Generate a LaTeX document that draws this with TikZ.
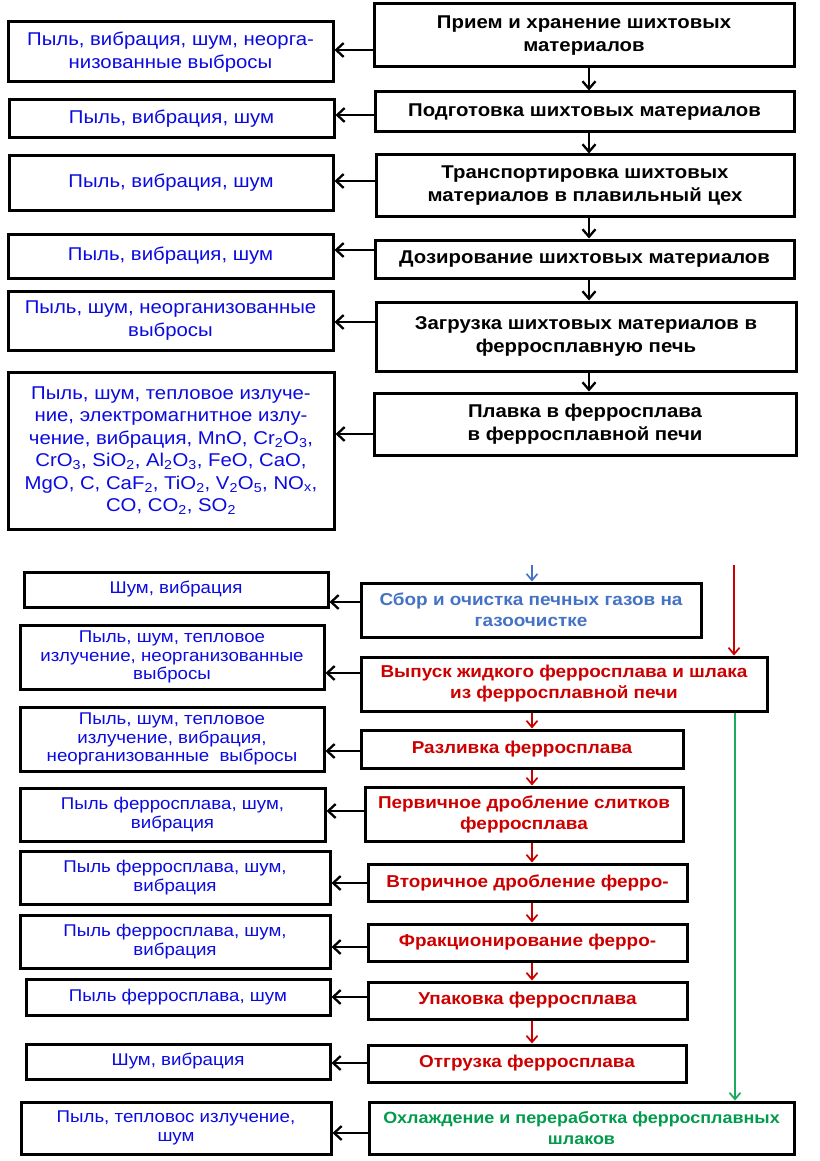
\documentclass[tikz,border=0pt]{standalone}
\usepackage{fontspec}
\setmainfont[FakeStretch=1.1]{Liberation Sans}
\usetikzlibrary{arrows.meta}
\definecolor{txtblue}{RGB}{10,10,225}
\definecolor{txtred}{RGB}{204,0,0}
\definecolor{txtgreen}{RGB}{0,155,75}
\definecolor{lnkblue}{RGB}{68,114,196}
\definecolor{lnkgreen}{RGB}{30,170,90}
\begin{document}
\begin{tikzpicture}[x=1pt,y=-1pt,
  box/.style={draw=black, line width=3pt, fill=white, align=center, inner sep=0pt},
  lbox/.style={box, text=txtblue, font=\fontsize{18.5}{22.5}\selectfont},
  rbox/.style={box, text=black, font=\bfseries\fontsize{18.5}{23}\selectfont},
  lboxs/.style={box, text=txtblue, font=\fontsize{17}{18.8}\selectfont},
  rboxs/.style={box, text=txtred, font=\bfseries\fontsize{17.2}{21}\selectfont},
  harr/.style={draw=black, line width=2.8pt, -{Straight Barb[length=7.5pt,width=14pt,line width=2.3pt]}},
  varr/.style={draw=black, line width=2.2pt, -{Straight Barb[length=7.5pt,width=13pt,line width=2.3pt]}},
  rarr/.style={draw=txtred, line width=1.8pt, -{Straight Barb[length=6.5pt,width=11pt,line width=1.7pt]}},
  barr/.style={draw=lnkblue, line width=1.5pt, -{Straight Barb[length=6.5pt,width=11pt,line width=1.6pt]}},
  garr/.style={draw=lnkgreen, line width=1.8pt, -{Straight Barb[length=6.5pt,width=11pt,line width=1.7pt]}}
]
\useasboundingbox (0,0) rectangle (819,1161);
\fill[white] (0,0) rectangle (819,1161);

% column coordinates
\coordinate (xa) at (589,0);
\coordinate (xr) at (532,0);
\coordinate (xg) at (735,0);

% ---------- top section ----------
\node[rbox, minimum width=420pt, minimum height=63pt] (R1) at (584,35.5) {Прием и хранение шихтовых\\материалов};
\node[lbox, minimum width=325pt, minimum height=60pt] (L1) at (170.5,52) {Пыль, вибрация, шум, неорга-\\низованные выбросы};
\node[rbox, minimum width=419pt, minimum height=40pt] (R2) at (584.5,112) {Подготовка шихтовых материалов};
\node[lbox, minimum width=325pt, minimum height=38pt] (L2) at (171.5,119) {Пыль, вибрация, шум};
\node[rbox, minimum width=418pt, minimum height=61pt] (R3) at (585,185.5) {Транспортировка шихтовых\\материалов в плавильный цех};
\node[lbox, minimum width=324pt, minimum height=54pt] (L3) at (171,183) {Пыль, вибрация, шум};
\node[rbox, minimum width=419pt, minimum height=38pt] (R4) at (584.5,259) {Дозирование шихтовых материалов};
\node[lbox, minimum width=325pt, minimum height=44pt] (L4) at (170.5,256) {Пыль, вибрация, шум};
\node[rbox, minimum width=420pt, minimum height=69pt] (R5) at (586,336.5) {Загрузка шихтовых материалов в\\ферросплавную печь};
\node[lbox, minimum width=325pt, minimum height=59pt] (L5) at (170.5,320.5) {Пыль, шум, неорганизованные\\выбросы};
\node[rbox, minimum width=422pt, minimum height=62pt] (R6) at (585,424) {Плавка в ферросплава\\в ферросплавной печи};
\node[lbox, minimum width=326pt, minimum height=157pt] (L6) at (171,450.5) {Пыль, шум, тепловое излуче-\\ние, электромагнитное излу-\\чение, вибрация, MnO, Cr\textsubscript{2}O\textsubscript{3},\\CrO\textsubscript{3}, SiO\textsubscript{2}, Al\textsubscript{2}O\textsubscript{3}, FeO, CaO,\\MgO, C, CaF\textsubscript{2}, TiO\textsubscript{2}, V\textsubscript{2}O\textsubscript{5}, NO\textsubscript{x},\\CO, CO\textsubscript{2}, SO\textsubscript{2}};

\foreach \a/\b in {R1/R2,R2/R3,R3/R4,R4/R5,R5/R6}
  \draw[varr] (\a.south -| xa) -- (\b.north -| xa);

\foreach \r/\l/\y in {R1/L1/50, R2/L2/115, R3/L3/181, R4/L4/250, R5/L5/322, R6/L6/434}{
  \coordinate (h) at (0,\y);
  \draw[harr] (\r.west |- h) -- (\l.east |- h);
}

% ---------- bottom section ----------
\node[rboxs, text=lnkblue, minimum width=340pt, minimum height=54pt] (R7) at (531,610) {Сбор и очистка печных газов на\\газоочистке};
\node[lboxs, minimum width=304pt, minimum height=35pt] (L7) at (176,589.5) {Шум, вибрация};
\node[rboxs, minimum width=406pt, minimum height=54pt] (R8) at (564,684) {Выпуск жидкого ферросплава и шлака\\из ферросплавной печи};
\node[lboxs, minimum width=304pt, minimum height=64pt] (L8) at (172,657) {Пыль, шум, тепловое\\излучение, неорганизованные\\выбросы};
\node[rboxs, minimum width=322pt, minimum height=38pt] (R9) at (522,749) {Разливка ферросплава};
\node[lboxs, minimum width=304pt, minimum height=64pt] (L9) at (172,739) {Пыль, шум, тепловое\\излучение, вибрация,\\неорганизованные\ \ выбросы};
\node[rboxs, minimum width=318pt, minimum height=54pt] (R10) at (524,814) {Первичное дробление слитков\\ферросплава};
\node[lboxs, minimum width=305pt, minimum height=53pt] (L10) at (172.5,814.5) {Пыль ферросплава, шум,\\вибрация};
\node[rboxs, minimum width=319pt, minimum height=37pt] (R11) at (527.5,882.5) {Вторичное дробление ферро-};
\node[lboxs, minimum width=310pt, minimum height=53pt] (L11) at (175,877.5) {Пыль ферросплава, шум,\\вибрация};
\node[rboxs, minimum width=319pt, minimum height=37pt] (R12) at (527.5,942.5) {Фракционирование ферро-};
\node[lboxs, minimum width=310pt, minimum height=53pt] (L12) at (175,941.5) {Пыль ферросплава, шум,\\вибрация};
\node[rboxs, minimum width=319pt, minimum height=37pt] (R13) at (527.5,1000.5) {Упаковка ферросплава};
\node[lboxs, minimum width=304pt, minimum height=36pt] (L13) at (178,997) {Пыль ферросплава, шум};
\node[rboxs, minimum width=318pt, minimum height=37pt] (R14) at (527,1063.5) {Отгрузка ферросплава};
\node[lboxs, minimum width=304pt, minimum height=35pt] (L14) at (178,1061.5) {Шум, вибрация};
\node[rboxs, text=txtgreen, font=\bfseries\fontsize{16.3}{21}\selectfont, minimum width=425pt, minimum height=52pt] (R15) at (581.5,1128) {Охлаждение и переработка ферросплавных\\шлаков};
\node[lboxs, minimum width=310pt, minimum height=52pt] (L15) at (176,1128) {Пыль, тепловос излучение,\\шум};

% incoming arrows from above
\coordinate (topb) at (532,565);
\coordinate (topr) at (734,565);
\draw[barr] (topb) -- (R7.north -| topb);
\draw[rarr] (topr) -- (R8.north -| topr);

% red chain
\foreach \a/\b in {R8/R9,R9/R10,R10/R11,R11/R12,R12/R13,R13/R14}
  \draw[rarr] (\a.south -| xr) -- (\b.north -| xr);

% green slag line
\draw[garr] (R8.south -| xg) -- (R15.north -| xg);

\foreach \r/\l/\y in {R7/L7/602, R8/L8/673, R9/L9/751, R10/L10/811, R11/L11/883, R12/L12/947, R13/L13/997, R14/L14/1063, R15/L15/1133}{
  \coordinate (h) at (0,\y);
  \draw[harr] (\r.west |- h) -- (\l.east |- h);
}
\end{tikzpicture}
\end{document}
